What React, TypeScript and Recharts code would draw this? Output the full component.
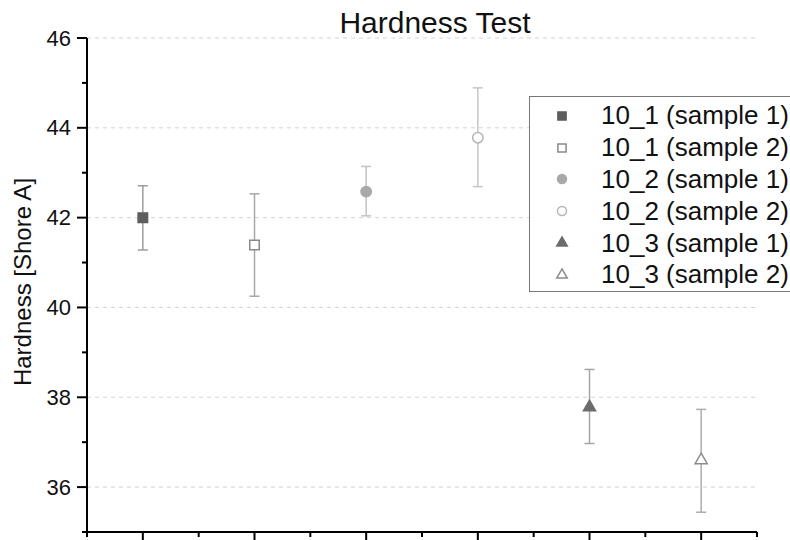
import React from 'react';
import { ComposedChart, Scatter, ErrorBar, XAxis, YAxis, ReferenceLine, Legend, Symbols } from 'recharts';

// sample names, x slot, mean hardness and error bar ends
const sampleNames = [
  '10_1 (sample 1)',
  '10_1 (sample 2)',
  '10_2 (sample 1)',
  '10_2 (sample 2)',
  '10_3 (sample 1)',
  '10_3 (sample 2)',
];
const xSlots = [1, 2, 3, 4, 5, 6];
const means = [42.0, 41.39, 42.58, 43.78, 37.78, 36.6];
const lowEnds = [41.28, 40.25, 42.04, 42.69, 36.97, 35.44];
const highEnds = [42.71, 42.53, 43.14, 44.89, 38.62, 37.73];

const yTicks = [35, 36, 37, 38, 39, 40, 41, 42, 43, 44, 45, 46];
const xTicks = [0.5, 1, 1.5, 2, 2.5, 3, 3.5, 4, 4.5, 5, 5.5, 6, 6.5];
const gridValues = [36, 38, 40, 42, 44, 46];

const markerStyles = [
  { type: 'square', size: 90, fill: '#5e5e5e', stroke: '#5e5e5e', bar: '#9d9d9d' },
  { type: 'square', size: 90, fill: '#ffffff', stroke: '#8a8a8a', bar: '#a8a8a8' },
  { type: 'circle', size: 85, fill: '#a9a9a9', stroke: '#a9a9a9', bar: '#c2c2c2' },
  { type: 'circle', size: 85, fill: '#ffffff', stroke: '#b5b5b5', bar: '#c6c6c6' },
  { type: 'triangle', size: 64, fill: '#6c6c6c', stroke: '#6c6c6c', bar: '#a5a5a5' },
  { type: 'triangle', size: 64, fill: '#ffffff', stroke: '#8c8c8c', bar: '#adadad' },
];

const font = '"Liberation Sans", Arial, sans-serif';

const seriesData = sampleNames.map((name, i) => ({
  name,
  points: [{ x: xSlots[i], y: means[i], err: [means[i] - lowEnds[i], highEnds[i] - means[i]] }],
}));

const XTick = (props: any) => {
  const { x, y, payload } = props;
  const major = Number.isInteger(payload.value);
  return <line x1={x} x2={x} y1={y} y2={y + (major ? 10 : 5)} stroke="#000" strokeWidth={2} />;
};

const YTick = (props: any) => {
  const { x, y, payload } = props;
  const major = payload.value % 2 === 0;
  return (
    <g>
      <line x1={x - (major ? 10 : 5)} x2={x} y1={y} y2={y} stroke="#000" strokeWidth={2} />
      {major && (
        <text x={x - 16} y={y} textAnchor="end" dominantBaseline="central" fontSize={22} fill="#111" fontFamily={font}>
          {payload.value}
        </text>
      )}
    </g>
  );
};

const LegendBox = () => (
  <div
    style={{
      border: '1px solid #777',
      background: '#fff',
      width: 270,
      height: 196,
      boxSizing: 'border-box',
      paddingTop: 3,
      fontFamily: font,
    }}
  >
    {sampleNames.map((name, i) => {
      const m = markerStyles[i];
      return (
        <div key={name} style={{ display: 'flex', alignItems: 'center', height: 31.8 }}>
          <svg width={64} height={20} style={{ flexShrink: 0 }}>
            <Symbols cx={32} cy={10} type={m.type as any} size={m.size * 0.75} fill={m.fill} stroke={m.stroke} strokeWidth={1.5} />
          </svg>
          <span style={{ fontSize: 26, color: '#111', whiteSpace: 'nowrap', marginLeft: 7 }}>{name}</span>
        </div>
      );
    })}
  </div>
);

export default function App() {
  return (
    <div style={{ position: 'absolute', left: 0, top: 0, width: 790, height: 540, overflow: 'hidden', background: '#fff' }}>
      <ComposedChart width={790} height={580} margin={{ top: 38, right: 33, left: 27, bottom: 18 }}>
        {gridValues.map((v) => (
          <ReferenceLine key={v} y={v} stroke="#d4d4d4" strokeDasharray="4 4" strokeWidth={1} />
        ))}
        <XAxis
          type="number"
          dataKey="x"
          domain={[0.5, 6.5]}
          ticks={xTicks}
          interval={0}
          height={30}
          tickSize={0}
          tickMargin={0}
          tickLine={false}
          tick={<XTick />}
          axisLine={{ stroke: '#000', strokeWidth: 2 }}
          allowDataOverflow
        />
        <YAxis
          type="number"
          dataKey="y"
          domain={[35, 46]}
          ticks={yTicks}
          interval={0}
          width={60}
          tickSize={0}
          tickMargin={0}
          tickLine={false}
          tick={<YTick />}
          axisLine={{ stroke: '#000', strokeWidth: 2 }}
          allowDataOverflow
        />
        {seriesData.map((s, i) => {
          const m = markerStyles[i];
          return (
            <Scatter
              key={s.name}
              name={s.name}
              data={s.points}
              isAnimationActive={false}
              shape={(p: any) => (
                <Symbols cx={p.cx} cy={p.cy} type={m.type as any} size={m.size} fill={m.fill} stroke={m.stroke} strokeWidth={1.5} />
              )}
            >
              <ErrorBar dataKey="err" direction="y" width={5} stroke={m.bar} strokeWidth={1.5} isAnimationActive={false} />
            </Scatter>
          );
        })}
        <Legend
          layout="vertical"
          align="center"
          verticalAlign="middle"
          content={<LegendBox />}
          wrapperStyle={{ position: 'absolute', left: 529, top: 96, width: 270, height: 196 }}
        />
        <text x={435} y={33} textAnchor="middle" fontSize={30} fill="#111" fontFamily={font}>
          Hardness Test
        </text>
        <text
          x={22}
          y={282}
          transform="rotate(-90 22 282)"
          textAnchor="middle"
          dominantBaseline="central"
          fontSize={24}
          fill="#111"
          fontFamily={font}
        >
          Hardness [Shore A]
        </text>
      </ComposedChart>
    </div>
  );
}
